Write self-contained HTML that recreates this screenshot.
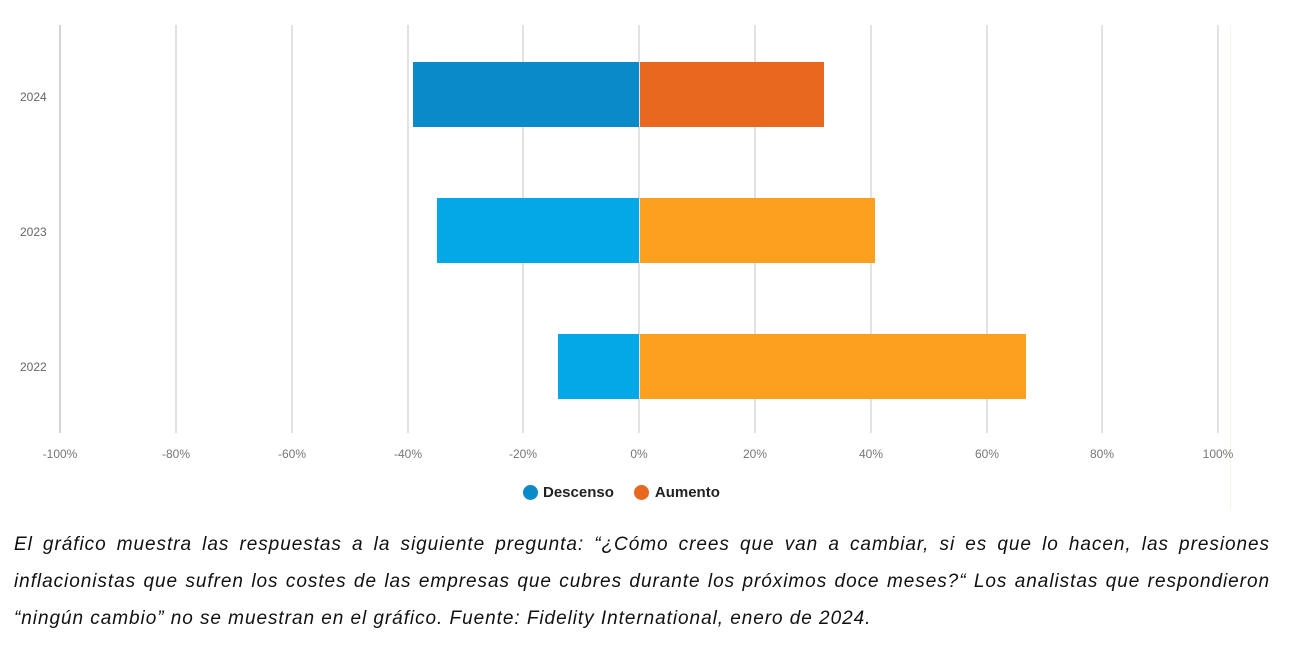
<!DOCTYPE html>
<html><head><meta charset="utf-8"><style>
body{margin:0;width:1312px;height:648px;background:#fff;position:relative;overflow:hidden;font-family:"Liberation Sans",sans-serif}
.g{position:absolute;top:25px;height:408px;width:2px;background:#e2e2e2}
.t{position:absolute;top:447px;font-size:12px;color:#777;width:60px;text-align:center}
.y{position:absolute;left:20px;font-size:12px;color:#666}
.b{position:absolute;height:65px}
.cap{position:absolute;left:14px;top:526px;width:1256px;font-size:19px;letter-spacing:0.95px;font-style:italic;line-height:37px;color:#111}
.cap div{text-align:justify;text-align-last:justify;white-space:nowrap}
.cap div.l{text-align-last:left}
</style></head><body>
<div class="g" style="left:59px;background:#d4d4d4"></div>
<div class="g" style="left:175px"></div><div class="g" style="left:291px"></div><div class="g" style="left:407px"></div><div class="g" style="left:522px"></div><div class="g" style="left:638px"></div><div class="g" style="left:754px"></div><div class="g" style="left:870px"></div><div class="g" style="left:986px"></div><div class="g" style="left:1101px"></div><div class="g" style="left:1217px"></div>
<div style="position:absolute;left:1230px;top:25px;width:1px;height:485px;background:#f6f6e8"></div>
<div class="t" style="left:30px">-100%</div><div class="t" style="left:146px">-80%</div><div class="t" style="left:262px">-60%</div><div class="t" style="left:378px">-40%</div><div class="t" style="left:493px">-20%</div><div class="t" style="left:609px">0%</div><div class="t" style="left:725px">20%</div><div class="t" style="left:841px">40%</div><div class="t" style="left:957px">60%</div><div class="t" style="left:1072px">80%</div><div class="t" style="left:1188px">100%</div>
<div class="y" style="top:90px">2024</div><div class="y" style="top:225px">2023</div><div class="y" style="top:360px">2022</div>
<div class="b" style="left:413px;width:226px;top:62px;background:#0a8ac9"></div>
<div class="b" style="left:640px;width:184px;top:62px;background:#e8681f"></div>
<div class="b" style="left:437px;width:202px;top:198px;background:#05a8e6"></div>
<div class="b" style="left:640px;width:235px;top:198px;background:#fda020"></div>
<div class="b" style="left:558px;width:81px;top:334px;background:#05a8e6"></div>
<div class="b" style="left:640px;width:386px;top:334px;background:#fda020"></div>
<div style="position:absolute;left:523px;top:484px;font-size:15px;font-weight:bold;color:#222;display:flex;align-items:center">
<span style="width:15px;height:15px;border-radius:50%;background:#0a8ac9;margin-right:5px"></span>Descenso
<span style="width:15px;height:15px;border-radius:50%;background:#e8681f;margin:0 6px 0 20px"></span>Aumento</div>
<div class="cap">
<div>El gráfico muestra las respuestas a la siguiente pregunta: “¿Cómo crees que van a cambiar, si es que lo hacen, las presiones</div>
<div>inflacionistas que sufren los costes de las empresas que cubres durante los próximos doce meses?“ Los analistas que respondieron</div>
<div class="l">“ningún cambio” no se muestran en el gráfico. Fuente: Fidelity International, enero de 2024.</div>
</div>
</body></html>
